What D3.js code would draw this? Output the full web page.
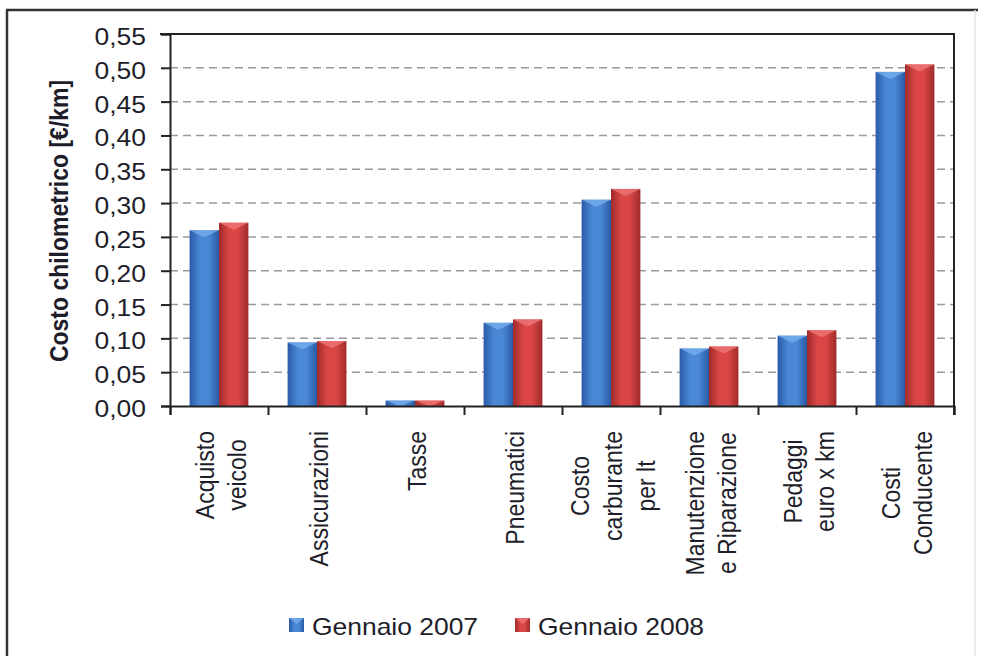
<!DOCTYPE html>
<html>
<head>
<meta charset="utf-8">
<script src="https://cdn.jsdelivr.net/npm/d3@7"></script>
<style>
  body { margin: 0; background: #fff; }
  text { font-family: "Liberation Sans", Arial, sans-serif; fill: #1e1e2a; }
</style>
</head>
<body>
<div id="chart"></div>
<script>
var width = 982;
var height = 656;

// ---- data ----
let categories = [
  ["Acquisto", "veicolo"],
  ["Assicurazioni"],
  ["Tasse"],
  ["Pneumatici"],
  ["Costo", "carburante", "per lt"],
  ["Manutenzione", "e Riparazione"],
  ["Pedaggi", "euro x km"],
  ["Costi", "Conducente"]
];
let series = ["Gennaio 2007", "Gennaio 2008"];
let g2007 = [0.260, 0.094, 0.008, 0.123, 0.305, 0.085, 0.104, 0.494];
let g2008 = [0.271, 0.096, 0.008, 0.128, 0.321, 0.088, 0.112, 0.505];
let yTicks = [0, 0.05, 0.10, 0.15, 0.20, 0.25, 0.30, 0.35, 0.40, 0.45, 0.50, 0.55];
let yTitle = "Costo chilometrico [€/km]";

let values = [g2007, g2008];
let sx = 1.15; // the picture is a bit stretched sideways

// colours: edge, middle, top
let colors = [
  { edge: "#2a5aa6", mid: "#4a88d6", top: "#7ab0ee", key: "#3d6fb8" },
  { edge: "#a02a2a", mid: "#da4646", top: "#f07a7a", key: "#c03838" }
];

var plot = { left: 170, right: 954, top: 34, bottom: 406 };

var svg = d3.select("#chart").append("svg")
  .attr("width", width)
  .attr("height", height);

// outer frame (only left and top are visible in the picture)
svg.append("line").attr("x1", 7).attr("y1", 10).attr("x2", 7).attr("y2", height)
  .style("stroke", "#333").style("stroke-width", 2.5);
svg.append("line").attr("x1", 6).attr("y1", 10).attr("x2", 978).attr("y2", 10)
  .style("stroke", "#333").style("stroke-width", 2.5);
svg.append("line").attr("x1", 975).attr("y1", 10).attr("x2", 975).attr("y2", height)
  .style("stroke", "#e4e4e4").style("stroke-width", 1.5);

// ---- scales ----
var y = d3.scaleLinear().domain([0, 0.55]).range([plot.bottom, plot.top]);
var x0 = d3.scaleBand().domain(d3.range(categories.length))
  .range([plot.left, plot.right]).padding(0);
var bw = x0.bandwidth();
var x1 = d3.scaleBand().domain(d3.range(series.length))
  .range([bw * 0.2, bw * 0.8]).padding(0);
var xEdge = d3.scaleLinear().domain([0, categories.length]).range([plot.left, plot.right]);

// gradients
var defs = svg.append("defs");
colors.forEach(function(c, i) {
  var g = defs.append("linearGradient").attr("id", "grad" + i)
    .attr("x1", "0%").attr("x2", "100%").attr("y1", "0%").attr("y2", "0%");
  g.append("stop").attr("offset", "0%").attr("stop-color", c.edge);
  g.append("stop").attr("offset", "35%").attr("stop-color", c.mid);
  g.append("stop").attr("offset", "65%").attr("stop-color", c.mid);
  g.append("stop").attr("offset", "100%").attr("stop-color", c.edge);
});

// ---- grid ----
var grid = svg.append("g").attr("id", "grid");
grid.selectAll("line")
  .data(yTicks.filter(function(d) { return d > 0 && d < 0.55; }))
  .enter().append("line")
  .attr("x1", plot.left).attr("x2", plot.right)
  .attr("y1", function(d) { return y(d); })
  .attr("y2", function(d) { return y(d); })
  .style("stroke", "#9a9a9a")
  .style("stroke-width", 1.5)
  .style("stroke-dasharray", "8,5");

// ---- bars ----
var groups = svg.append("g").attr("id", "bars")
  .selectAll("g").data(categories).enter().append("g")
  .attr("transform", function(d, i) { return "translate(" + x0(i) + ",0)"; });

series.forEach(function(s, si) {
  groups.append("rect")
    .attr("x", x1(si))
    .attr("width", x1.bandwidth())
    .attr("y", function(d, i) { return y(values[si][i]); })
    .attr("height", function(d, i) { return y(0) - y(values[si][i]); })
    .style("fill", "url(#grad" + si + ")");
  // bevelled top
  groups.append("polygon")
    .attr("points", function(d, i) {
      var xl = x1(si), w = x1.bandwidth(), t = y(values[si][i]);
      var h = Math.min(7, y(0) - t);
      return xl + "," + t + " " + (xl + w) + "," + t + " " + (xl + w / 2) + "," + (t + h);
    })
    .style("fill", colors[si].top)
    .style("opacity", 0.75);
});

// ---- axes ----
var yAxis = d3.axisLeft(y).tickValues(yTicks).tickSize(9).tickFormat("");
svg.append("g").attr("transform", "translate(" + plot.left + ",0)").call(yAxis)
  .call(function(g) {
    g.select(".domain").style("stroke", "#222").style("stroke-width", 2);
    g.selectAll(".tick line").style("stroke", "#222").style("stroke-width", 2);
  });

var xAxis = d3.axisBottom(xEdge).tickValues(d3.range(categories.length + 1)).tickSize(9).tickFormat("");
svg.append("g").attr("transform", "translate(0," + plot.bottom + ")").call(xAxis)
  .call(function(g) {
    g.select(".domain").style("stroke", "#222").style("stroke-width", 2);
    g.selectAll(".tick line").style("stroke", "#222").style("stroke-width", 2);
  });

// top and right of the plot frame
svg.append("line").attr("x1", plot.left - 10).attr("x2", plot.right + 1)
  .attr("y1", plot.top).attr("y2", plot.top)
  .style("stroke", "#222").style("stroke-width", 2);
svg.append("line").attr("x1", plot.right).attr("x2", plot.right)
  .attr("y1", plot.top).attr("y2", plot.bottom + 9)
  .style("stroke", "#222").style("stroke-width", 2);

// y tick labels
svg.append("g").attr("id", "ylabels").selectAll("text")
  .data(yTicks).enter().append("text")
  .attr("text-anchor", "end")
  .attr("font-size", 23)
  .attr("transform", function(d) { return "translate(146," + (y(d) + 11) + ") scale(" + sx + ",1)"; })
  .text(function(d) { return d3.format(".2f")(d).replace(".", ","); });

// y title
svg.append("text")
  .attr("text-anchor", "middle")
  .attr("font-size", 23)
  .attr("font-weight", "bold")
  .attr("transform", "translate(68,221) scale(" + sx + ",1) rotate(-90)")
  .text(yTitle);

// category labels, rotated, lines centred in a top-aligned block
var lh = 28.5;
categories.forEach(function(lines, i) {
  var cx = x0(i) + bw / 2;
  var g = svg.append("g")
    .attr("transform", "translate(" + cx + ",431) scale(" + sx + ",1) rotate(-90)");
  var texts = g.selectAll("text").data(lines).enter().append("text")
    .attr("font-size", 23)
    .attr("text-anchor", "middle")
    .attr("y", function(d, j) { return (j - (lines.length - 1) / 2) * lh + 9.5; })
    .text(function(d) { return d; });
  var L = 0;
  texts.each(function() { L = Math.max(L, this.getComputedTextLength()); });
  texts.attr("x", -L / 2);
});

// ---- legend ----
var legX = [289, 515];
series.forEach(function(s, si) {
  var lg = svg.append("g");
  lg.append("rect")
    .attr("x", legX[si]).attr("y", 618)
    .attr("width", 15).attr("height", 14)
    .style("fill", "url(#grad" + si + ")");
  lg.append("polygon")
    .attr("points", legX[si] + ",618 " + (legX[si] + 15) + ",618 " + (legX[si] + 7.5) + ",624")
    .style("fill", colors[si].top).style("opacity", 0.7);
  lg.append("text")
    .attr("font-size", 23)
    .attr("transform", "translate(" + (legX[si] + 23) + ",635) scale(" + sx + ",1)")
    .text(s);
});
</script>
</body>
</html>
